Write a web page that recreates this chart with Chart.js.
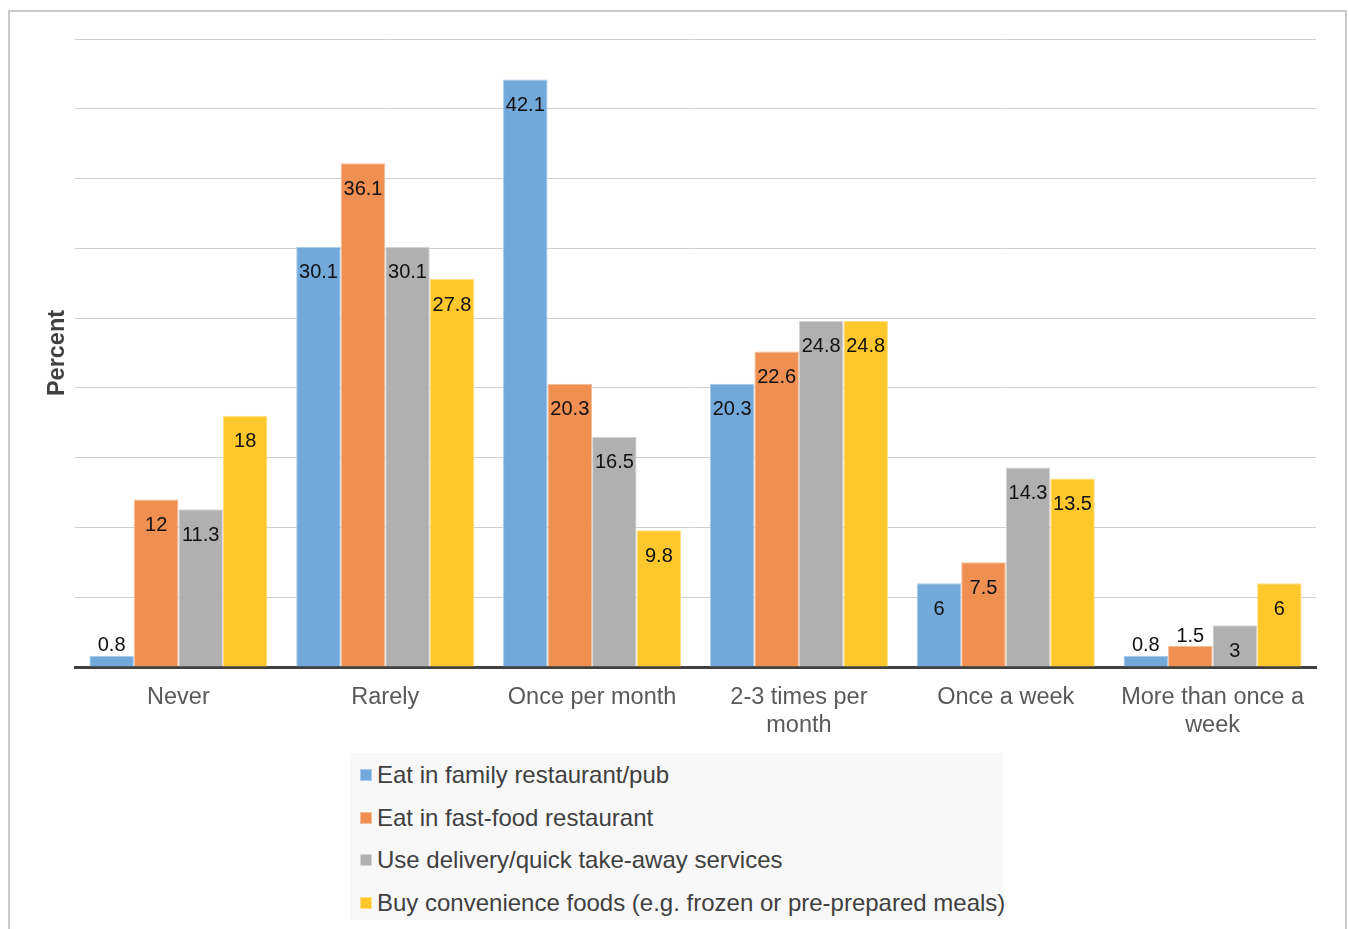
<!DOCTYPE html>
<html>
<head>
<meta charset="utf-8">
<script src="https://cdn.jsdelivr.net/npm/chart.js@4.4.1/dist/chart.umd.min.js"></script>
<style>
  body { margin: 0; background: #fff; font-family: "Liberation Sans", Arial, sans-serif; }
  #frame { position: absolute; left: 8px; top: 10px; width: 1335px; height: 960px; border: 2px solid #c9c9c9; }
  #wrap { position: absolute; left: 0; top: 0; width: 1349px; height: 750px; }
  #legend { position: absolute; left: 350px; top: 753px; width: 653px; height: 167px; background: #f8f8f8; }
  .item { position: absolute; left: 0; height: 30px; display: flex; align-items: center; font-size: 24px; color: #404040; white-space: nowrap; }
  .sw { width: 10px; height: 10px; margin: 0 5px 0 10px; border: 1px solid; }
</style>
</head>
<body>
<div id="frame"></div>
<div id="wrap"><canvas id="myChart"></canvas></div>
<div id="legend"></div>
<script>
const categories = ['Never', 'Rarely', 'Once per month', ['2-3 times per', 'month'], 'Once a week', ['More than once a', 'week']];
const seriesNames = ['Eat in family restaurant/pub', 'Eat in fast-food restaurant', 'Use delivery/quick take-away services', 'Buy convenience foods (e.g. frozen or pre-prepared meals)'];
const familyPub = [0.8, 30.1, 42.1, 20.3, 6, 0.8];
const fastFood = [12, 36.1, 20.3, 22.6, 7.5, 1.5];
const delivery = [11.3, 30.1, 16.5, 24.8, 14.3, 3];
const convenience = [18, 27.8, 9.8, 24.8, 13.5, 6];
const yTicks = [0, 5, 10, 15, 20, 25, 30, 35, 40, 45];

const colors = ['#72a8da', '#ef8f51', '#b0b0b0', '#fec72b'];
const edges = ['#a8cbeb', '#f6bb94', '#d4d4d4', '#ffdd80'];

// value labels: inside top of bar, above it when the bar is short
const barLabels = {
  id: 'barLabels',
  afterDatasetsDraw(chart) {
    const ctx = chart.ctx;
    ctx.save();
    ctx.font = '20px "Liberation Sans", Arial, sans-serif';
    ctx.fillStyle = '#111';
    ctx.textAlign = 'center';
    ctx.textBaseline = 'middle';
    chart.data.datasets.forEach((ds, i) => {
      chart.getDatasetMeta(i).data.forEach((bar, j) => {
        const h = bar.base - bar.y;
        const y = h < 30 ? bar.y - 10 : bar.y + 26;
        ctx.fillText(String(ds.data[j]), bar.x, y);
      });
    });
    ctx.restore();
  }
};

let myChart = document.getElementById('myChart').getContext('2d');

let foodChart = new Chart(myChart, {
  type: 'bar',
  data: {
    labels: categories,
    datasets: [familyPub, fastFood, delivery, convenience].map((d, i) => ({
      label: seriesNames[i],
      data: d,
      backgroundColor: colors[i],
      borderColor: edges[i],
      borderWidth: 1,
      categoryPercentage: 0.861,
      barPercentage: 1
    }))
  },
  options: {
    responsive: true,
    maintainAspectRatio: false,
    animation: false,
    layout: { padding: { left: 0, right: 33, top: 39, bottom: 0 } },
    plugins: { legend: { display: false }, tooltip: { enabled: false } },
    scales: {
      x: {
        grid: { display: false },
        border: { color: '#404040', width: 3 },
        ticks: {
          color: '#595959',
          padding: 8,
          maxRotation: 0,
          autoSkip: false,
          font: { family: '"Liberation Sans", Arial, sans-serif', size: 23.5, lineHeight: 1.2 }
        },
        afterFit(scale) { scale.height = 83; }
      },
      y: {
        min: 0,
        max: 45,
        afterBuildTicks(scale) { scale.ticks = yTicks.map(v => ({ value: v })); },
        grid: { color: '#d0d0d0', lineWidth: 1, drawTicks: false },
        border: { display: false },
        ticks: { display: false },
        title: {
          display: true,
          text: 'Percent',
          color: '#404040',
          padding: { top: 43, bottom: 0 },
          font: { family: '"Liberation Sans", Arial, sans-serif', size: 23.5, weight: 'bold' }
        },
        afterFit(scale) { scale.width = 75; }
      }
    }
  },
  plugins: [barLabels]
});

// html legend, one entry per line
const legend = document.getElementById('legend');
foodChart.data.datasets.forEach((ds, i) => {
  const item = document.createElement('div');
  item.className = 'item';
  item.style.top = (7 + i * 42.7) + 'px';
  const sw = document.createElement('span');
  sw.className = 'sw';
  sw.style.background = ds.backgroundColor;
  sw.style.borderColor = ds.borderColor;
  item.appendChild(sw);
  item.appendChild(document.createTextNode(ds.label));
  legend.appendChild(item);
});
</script>
</body>
</html>
